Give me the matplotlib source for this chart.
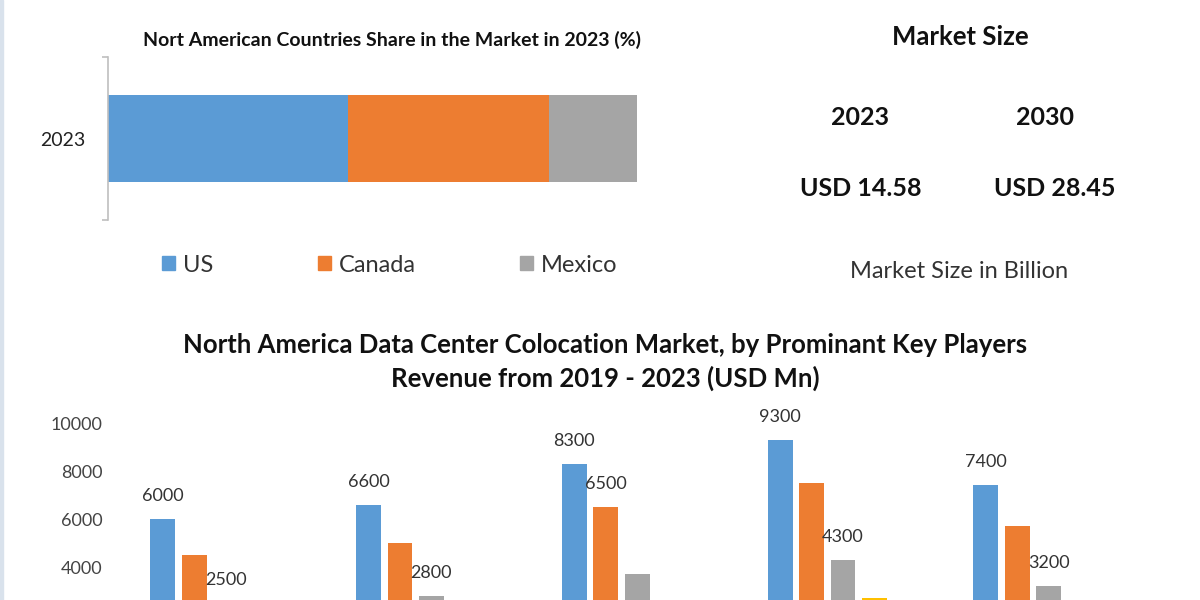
import matplotlib
matplotlib.use('Agg')
import matplotlib.pyplot as plt
import numpy as np
from matplotlib.patches import Rectangle, Patch

plt.rcParams['font.family'] = ['Lato', 'DejaVu Sans']

# top chart - share of each country in 2023 (%)
countries = ['US', 'Canada', 'Mexico']
share_2023 = [45.4, 38.0, 16.6]
colors = ['#5B9BD5', '#ED7D31', '#A5A5A5', '#FFC000']

# market size panel
size_years = ['2023', '2030']
size_values = ['USD 14.58', 'USD 28.45']

# bottom chart - key players revenue (USD Mn), category labels are cut off in the picture
groups = ['2019', '2020', '2021', '2022', '2023']
player_a = [6000, 6600, 8300, 9300, 7400]
player_b = [4500, 5000, 6500, 7500, 5700]
player_c = [2500, 2800, 3700, 4300, 3200]
player_d = [1500, 2000, 2600, 2700, 2200]
# which bars carry a value label
show_a = [1, 1, 1, 1, 1]
show_b = [0, 0, 1, 0, 0]
show_c = [1, 1, 0, 1, 1]
show_d = [0, 0, 0, 0, 0]
yticks = [4000, 6000, 8000, 10000]   # lower ticks fall below the crop

fig = plt.figure(figsize=(12, 6), dpi=100)
W, H = 1200.0, 600.0

# thin border on the left edge
fig.patches.append(Rectangle((0, 0), 3 / W, 1, transform=fig.transFigure,
                             color='#D9E2EC', zorder=0))

# ---- stacked share bar ----
ax1 = fig.add_axes([108 / W, 1 - 220 / H, 529 / W, 163 / H])
left = 0
for name, val, c in zip(countries, share_2023, colors):
    ax1.barh(0, val, left=left, height=0.528, color=c, label=name)
    left += val
ax1.set_xlim(0, sum(share_2023))
ax1.set_ylim(-0.5, 0.5)
for s in ['top', 'right', 'bottom']:
    ax1.spines[s].set_visible(False)
ax1.spines['left'].set_color('#BFBFBF')
ax1.spines['left'].set_linewidth(1.2)
ax1.set_xticks([])
ax1.set_yticks([-0.5, 0.5])
ax1.set_yticklabels(['', ''])
ax1.tick_params(axis='y', which='major', length=4, color='#BFBFBF', width=1.2)
ax1.set_yticks([0], minor=True)
ax1.set_yticklabels(['2023'], minor=True)
ax1.tick_params(axis='y', which='minor', length=0, pad=16, labelsize=14, labelcolor='#222222')

fig.text(392 / W, 1 - 40 / H, 'Nort American Countries Share in the Market in 2023 (%)',
         ha='center', va='center', fontsize=14, fontweight='bold', color='#111111')

handles = [Patch(color=c, label=n) for n, c in zip(countries, colors)]
fig.legend(handles=handles, loc='center left', bbox_to_anchor=(162 / W, 1 - 265 / H),
           ncol=3, frameon=False, fontsize=17, handlelength=0.55, handleheight=0.55,
           handletextpad=0.35, columnspacing=4.4, borderpad=0, borderaxespad=0,
           labelcolor='#333333')

# ---- market size text ----
fig.text(960 / W, 1 - 37 / H, 'Market Size', ha='center', va='center',
         fontsize=18.5, fontweight='bold', color='#111111')
for xy, xv, yr, val in zip([860, 1045], [861, 1055], size_years, size_values):
    fig.text(xy / W, 1 - 117 / H, yr, ha='center', va='center',
             fontsize=18, fontweight='bold', color='#111111')
    fig.text(xv / W, 1 - 188 / H, val, ha='center', va='center',
             fontsize=18, fontweight='bold', color='#111111')
fig.text(959 / W, 1 - 272 / H, 'Market Size in Billion', ha='center', va='center',
         fontsize=17, color='#333333')

# ---- key players bar chart ----
fig.text(605 / W, 1 - 345 / H,
         'North America Data Center Colocation Market, by Prominant Key Players',
         ha='center', va='center', fontsize=18.5, fontweight='bold', color='#111111')
fig.text(605 / W, 1 - 378 / H, 'Revenue from 2019 - 2023 (USD Mn)',
         ha='center', va='center', fontsize=18.5, fontweight='bold', color='#111111')

ax2 = fig.add_axes([107 / W, -63 / H, 1029 / W, 240 / H])
x = np.arange(len(groups))
step = 0.153
width = 0.121
series = [player_a, player_b, player_c, player_d]
shows = [show_a, show_b, show_c, show_d]
for i, (vals, show) in enumerate(zip(series, shows)):
    xs = x + (i - 1.5) * step
    ax2.bar(xs, vals, width=width, color=colors[i])
    for xi, v, s in zip(xs, vals, show):
        if s:
            ax2.annotate(str(v), (xi, v), xytext=(0, 16.5), textcoords='offset points',
                         ha='center', va='center', fontsize=13, color='#333333',
                         annotation_clip=False)
ax2.set_xlim(-0.5, len(groups) - 0.5)
ax2.set_ylim(0, 10000)
ax2.set_yticks(yticks)
ax2.set_yticklabels([str(t) for t in yticks])
ax2.set_xticks([])
ax2.tick_params(axis='both', length=0, labelsize=13, labelcolor='#444444', pad=3)
for s in ax2.spines.values():
    s.set_visible(False)

fig.savefig('out.png', dpi=100)
